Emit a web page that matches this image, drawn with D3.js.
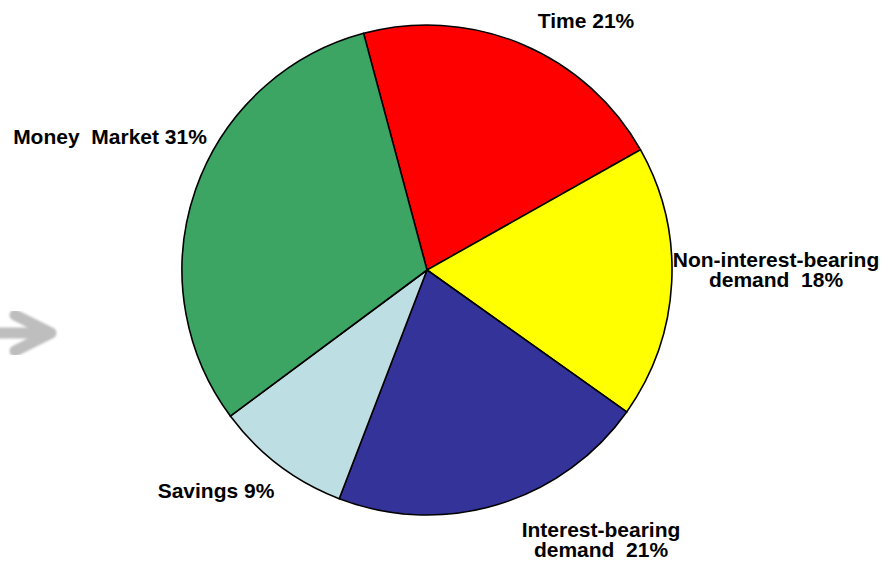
<!DOCTYPE html>
<html>
<head>
<meta charset="utf-8">
<script src="https://cdn.jsdelivr.net/npm/d3@7"></script>
<style>
  html, body { margin: 0; padding: 0; background: #fff; }
  svg { display: block; }
  .lbl { font-family: "Liberation Sans", Arial, sans-serif; font-weight: bold; font-size: 21px; fill: #000; white-space: pre; }
</style>
</head>
<body>
<svg id="chart" width="881" height="563"></svg>
<script>
// Deposit mix by account type (percent)
const categories = ["Time", "Non-interest-bearing demand", "Interest-bearing demand", "Savings", "Money  Market"];
const values = [21, 18, 21, 9, 31];
const colors = ["#FF0000", "#FFFF00", "#333399", "#BDDEE2", "#3CA564"];
// Label lines per slice
const labelLines = [
  ["Time 21%"],
  ["Non-interest-bearing", "demand  18%"],
  ["Interest-bearing", "demand  21%"],
  ["Savings 9%"],
  ["Money  Market 31%"]
];

const svg = d3.select("#chart");
const cx = 427, cy = 270, r = 245;
const start = -15 * Math.PI / 180;

// Soft grey arrow at the left edge
const defs = svg.append("defs");
defs.append("filter").attr("id", "soft")
  .append("feGaussianBlur").attr("stdDeviation", 1.2);
const arrow = svg.append("g").attr("filter", "url(#soft)")
  .attr("fill", "none").attr("stroke", "#BEBEBE")
  .attr("stroke-width", 11).attr("stroke-linecap", "round").attr("stroke-linejoin", "round");
arrow.append("path").attr("d", "M-10,333 L46,333");
arrow.append("path").attr("d", "M15,315 L51,333 L15,351");

const pie = d3.pie().sort(null).value(d => d)
  .startAngle(start).endAngle(start + 2 * Math.PI);
const arcs = pie(values);
const arc = d3.arc().innerRadius(0).outerRadius(r);

const g = svg.append("g").attr("transform", `translate(${cx},${cy})`);
g.selectAll("path.slice").data(arcs).join("path")
  .attr("class", "slice")
  .attr("d", arc)
  .attr("fill", (d, i) => colors[i])
  .attr("stroke", "#000")
  .attr("stroke-width", 1.6)
  .attr("stroke-linejoin", "round");

// Label positions (text centre, first baseline)
const labelPos = [
  { x: 586, y: 28 },
  { x: 776, y: 267 },
  { x: 601, y: 537 },
  { x: 216, y: 498 },
  { x: 110, y: 144 }
];
const lineH = 20;
const labels = svg.append("g");
arcs.forEach((d, i) => {
  const pos = labelPos[i];
  const t = labels.append("text").attr("class", "lbl")
    .attr("text-anchor", "middle")
    .attr("x", pos.x).attr("y", pos.y);
  labelLines[i].forEach((line, j) => {
    t.append("tspan").attr("x", pos.x).attr("dy", j === 0 ? 0 : lineH).text(line);
  });
});
</script>
</body>
</html>
